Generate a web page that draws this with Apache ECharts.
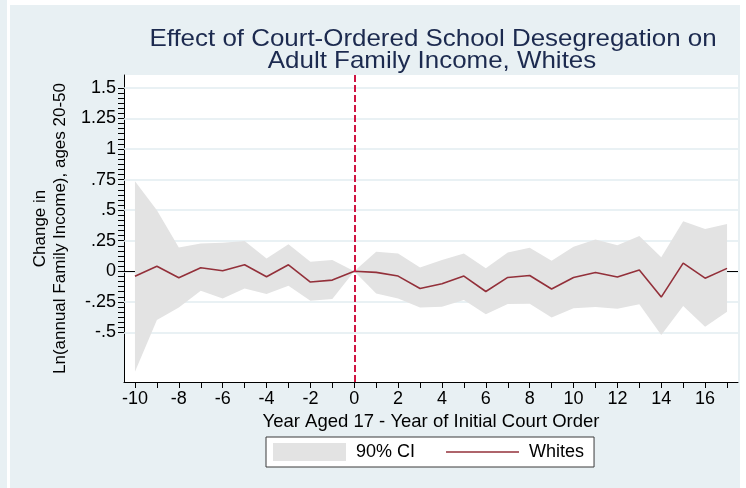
<!DOCTYPE html>
<html>
<head>
<meta charset="utf-8">
<script src="https://cdn.jsdelivr.net/npm/echarts@6/dist/echarts.min.js"></script>
<style>
  html, body { margin: 0; padding: 0; background: #ffffff; }
  #wrap { position: relative; width: 746px; height: 488px; overflow: hidden; background: #ffffff; }
  #edge { position: absolute; left: 0; top: 0; width: 7px; height: 488px; background: #e8f0f3; }
  #panel { position: absolute; left: 10px; top: 5px; width: 730px; height: 483px; background: #e8f0f3; }
  #chart { position: absolute; left: 0; top: 0; width: 746px; height: 488px; }
</style>
</head>
<body>
<div id="wrap"><div id="edge"></div><div id="panel"></div><div id="chart"></div></div>
<script>
// Event-study estimates: year aged 17 relative to year of initial court order
const years = [-10, -9, -8, -7, -6, -5, -4, -3, -2, -1, 0, 1, 2, 3, 4, 5, 6, 7, 8, 9, 10, 11, 12, 13, 14, 15, 16, 17];

// Point estimates, change in ln(annual family income), whites
const estimate = [-0.040, 0.042, -0.053, 0.029, 0.004, 0.053, -0.045, 0.053, -0.088, -0.072,
                  0.000, -0.009, -0.039, -0.140, -0.102, -0.039, -0.165, -0.050, -0.034, -0.145,
                  -0.050, -0.009, -0.047, 0.010, -0.211, 0.067, -0.056, 0.024];

// 90% confidence interval bounds
const ciUpper = [0.737, 0.500, 0.195, 0.228, 0.233, 0.247, 0.105, 0.222, 0.078, 0.092,
                 0.000, 0.160, 0.146, 0.032, 0.092, 0.146, 0.024, 0.154, 0.192, 0.086,
                 0.200, 0.260, 0.214, 0.288, 0.114, 0.410, 0.345, 0.386];
const ciLower = [-0.821, -0.399, -0.295, -0.159, -0.222, -0.140, -0.186, -0.118, -0.241, -0.227,
                 0.000, -0.181, -0.222, -0.295, -0.290, -0.235, -0.352, -0.268, -0.265, -0.377,
                 -0.303, -0.292, -0.306, -0.270, -0.521, -0.284, -0.453, -0.331];

// Axis ticks and labels
const xLabelValues = [-10, -8, -6, -4, -2, 0, 2, 4, 6, 8, 10, 12, 14, 16];
const yTickValues = [-0.5, -0.25, 0, 0.25, 0.5, 0.75, 1, 1.25, 1.5];
const yTickLabels = ['-.5', '-.25', '0', '.25', '.5', '.75', '1', '1.25', '1.5'];
const xRange = [-10.5, 17.5];
const yRange = [-0.905, 1.605];

const FONT = '"Liberation Sans", Arial, Helvetica, sans-serif';
const CI_FILL = '#e3e3e3';
const LINE_COLOR = '#93303a';
const TITLE_COLOR = '#1c2a4f';

// y tick marks: six subdivisions between labelled values
const yTickMarks = [];
for (let k = 0; k <= 48; k++) yTickMarks.push(+(-0.5 + k * 0.25 / 6).toFixed(6));

const ciRows = years.map((x, i) => [x, ciLower[i], ciUpper[i]]);
const estPts = years.map((x, i) => [x, estimate[i]]);

const yLabelFor = v => {
  const i = yTickValues.findIndex(t => Math.abs(t - v) < 1e-9);
  return i >= 0 ? yTickLabels[i] : '';
};

// Shaded band: one polygon along the upper bounds and back along the lower bounds
function renderBand(params, api) {
  if (params.dataIndexInside !== 0) return null;
  const n = params.dataInsideLength;
  const upper = [], lower = [];
  for (let i = 0; i < n; i++) {
    upper.push(api.coord([api.value(0, i), api.value(2, i)]));
    lower.push(api.coord([api.value(0, i), api.value(1, i)]));
  }
  return {
    type: 'polygon',
    shape: { points: upper.concat(lower.reverse()) },
    style: { fill: CI_FILL, stroke: null }
  };
}

const chart = echarts.init(document.getElementById('chart'), null, { renderer: 'canvas' });

chart.setOption({
  animation: false,
  backgroundColor: 'transparent',
  textStyle: { fontFamily: FONT },
  graphic: [
    {
      type: 'text', x: 433, y: 39, scaleX: 1.08, silent: true,
      style: {
        text: 'Effect of Court-Ordered School Desegregation on',
        fill: TITLE_COLOR, fontSize: 24, fontFamily: FONT,
        align: 'center', verticalAlign: 'middle', textAlign: 'center', textVerticalAlign: 'middle'
      }
    },
    {
      type: 'text', x: 432, y: 61, scaleX: 1.08, silent: true,
      style: {
        text: 'Adult Family Income, Whites',
        fill: TITLE_COLOR, fontSize: 24, fontFamily: FONT,
        align: 'center', verticalAlign: 'middle', textAlign: 'center', textVerticalAlign: 'middle'
      }
    }
  ],
  grid: {
    left: 124, right: 8, top: 75, bottom: 106,
    show: true, backgroundColor: '#ffffff', borderWidth: 0
  },
  legend: {
    left: 266, top: 437,
    orient: 'horizontal',
    backgroundColor: '#ffffff',
    borderColor: '#3a3a3a', borderWidth: 1, borderRadius: 0,
    padding: [6, 10, 6, 7],
    itemWidth: 73, itemHeight: 18, itemGap: 31,
    selectedMode: false,
    textStyle: { fontSize: 18, color: '#000', fontFamily: FONT, padding: [0, 0, 0, 5] },
    data: [
      { name: '90% CI', icon: 'rect', itemStyle: { color: CI_FILL } },
      { name: 'Whites', icon: 'path://M0,0 L100,0 L100,2.2 L0,2.2 Z', itemStyle: { color: LINE_COLOR } }
    ]
  },
  xAxis: {
    type: 'value',
    min: xRange[0], max: xRange[1],
    name: 'Year Aged 17 - Year of Initial Court Order',
    nameLocation: 'middle', nameGap: 23,
    nameTextStyle: { fontSize: 18.5, color: '#000', fontFamily: FONT },
    axisLine: { show: true, onZero: false, lineStyle: { color: '#000', width: 1 } },
    axisTick: { show: true, customValues: years, length: 6, lineStyle: { color: '#000', width: 1 } },
    axisLabel: { customValues: xLabelValues, fontSize: 18, color: '#000', margin: 8, fontFamily: FONT },
    splitLine: { show: false }
  },
  yAxis: {
    type: 'value',
    position: 'left',
    min: yRange[0], max: yRange[1],
    name: 'Change in\nLn(annual Family Income), ages 20-50',
    nameLocation: 'middle', nameRotate: 90, nameGap: 51,
    nameTextStyle: { fontSize: 17, lineHeight: 20, color: '#000', fontFamily: FONT },
    axisLine: { show: true, onZero: false, lineStyle: { color: '#000', width: 1 } },
    axisTick: { show: true, customValues: yTickMarks, length: 6, lineStyle: { color: '#000', width: 1 } },
    axisLabel: { customValues: yTickValues, formatter: yLabelFor, fontSize: 18, color: '#000', margin: 8, fontFamily: FONT },
    splitLine: { show: false }
  },
  series: [
    {
      name: '90% CI',
      type: 'custom',
      data: ciRows,
      encode: { x: 0, y: [1, 2] },
      renderItem: renderBand,
      itemStyle: { color: CI_FILL },
      silent: true,
      z: 2,
      markLine: {
        silent: true, z: 1, animation: false,
        symbol: ['none', 'none'],
        label: { show: false },
        data: yTickValues.map(v => ({ yAxis: v, lineStyle: { color: '#e2ecf0', width: 1.5, type: 'solid' } }))
          .concat([{ yAxis: 0, lineStyle: { color: '#000', width: 1.2, type: 'solid' } }])
      }
    },
    {
      name: 'Whites',
      type: 'line',
      data: estPts,
      symbol: 'none',
      lineStyle: { color: LINE_COLOR, width: 1.6 },
      itemStyle: { color: LINE_COLOR },
      z: 3,
      markLine: {
        silent: true, z: 5, animation: false,
        symbol: ['none', 'none'],
        label: { show: false },
        lineStyle: { color: '#cf1442', width: 2, type: [7, 3] },
        data: [{ xAxis: 0 }]
      }
    }
  ]
});
</script>
</body>
</html>
